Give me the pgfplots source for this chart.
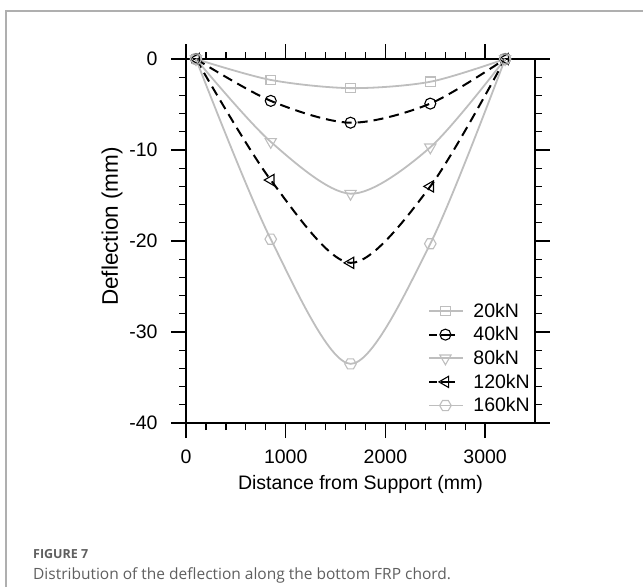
\documentclass[border=0pt]{standalone}
\usepackage{pgfplots}
\pgfplotsset{compat=1.18}
\usepackage{fontspec}
\setmainfont{Liberation Sans}
\newfontfamily\capfont{Open Sans}
\definecolor{lg}{RGB}{190,190,190}
\definecolor{framegray}{RGB}{175,175,175}
\definecolor{capgray}{RGB}{95,95,95}
\pgfdeclareplotmark{hexagon}{%
  \pgfpathmoveto{\pgfqpointpolar{0}{\pgfplotmarksize}}%
  \pgfpathlineto{\pgfqpointpolar{60}{\pgfplotmarksize}}%
  \pgfpathlineto{\pgfqpointpolar{120}{\pgfplotmarksize}}%
  \pgfpathlineto{\pgfqpointpolar{180}{\pgfplotmarksize}}%
  \pgfpathlineto{\pgfqpointpolar{240}{\pgfplotmarksize}}%
  \pgfpathlineto{\pgfqpointpolar{300}{\pgfplotmarksize}}%
  \pgfpathclose
  \pgfusepathqstroke
}
\pgfplotsset{
  dashedlegend/.style={legend image code/.code={\path[draw=none, fill=none] (0pt,0pt) -- (42pt,0pt);\draw[mark repeat=2, mark phase=2, dash pattern=on 7pt off 5pt on 20pt off 1pt] plot coordinates {(0pt,0pt) (16pt,0pt) (25pt,0pt)};}},
}
\begin{document}
\begin{tikzpicture}
\useasboundingbox (0,0) rectangle (643pt,-587pt);
\draw[framegray, line width=1.5pt] (6pt,-587pt) -- (6pt,-11pt) -- (643pt,-11pt);
\begin{axis}[
  at={(186pt,-423pt)}, anchor=south west,
  scale only axis, width=349pt, height=364pt,
  xmin=0, xmax=3500, ymin=-40, ymax=0,
  xtick={0,1000,2000,3000}, minor x tick num=4,
  ytick={-40,-30,-20,-10,0}, minor y tick num=4,
  tick align=outside,
  major tick length=15pt, minor tick length=7pt,
  axis line style={black, line width=1.3pt},
  every tick/.style={black, line width=1.3pt},
  tick label style={font=\fontsize{19.5}{22}\selectfont},
  xticklabel style={yshift=-8pt},
  yticklabel style={xshift=-10pt},
  /pgf/number format/assume math mode=true,
  /pgf/number format/1000 sep={},
  xlabel={Distance from Support (mm)},
  ylabel={Deflection (mm)},
  xlabel style={font=\fontsize{19.5}{22}\selectfont, at={(axis description cs:0.5,-0.17)}, anchor=center},
  ylabel style={font=\fontsize{22.5}{25}\selectfont, at={(axis description cs:-0.212,0.54)}, anchor=center},
  legend style={draw=none, fill=none, at={(rel axis cs:1.0,0.015)}, anchor=south east,
    font=\fontsize{19.5}{22}\selectfont, row sep=4pt},
  legend cell align=left,
  legend image code/.code={\path[draw=none, fill=none] (0pt,0pt) -- (42pt,0pt);\draw[mark repeat=2, mark phase=2] plot coordinates {(0pt,0pt) (16pt,0pt) (33pt,0pt)};},
  clip=false,
]
\addplot[lg, line width=1.8pt, smooth, mark=square, mark size=4.8pt, mark options={solid, line width=1.1pt}]
  coordinates {(100,0) (850,-2.3) (1650,-3.2) (2450,-2.5) (3200,0)};
\addlegendentry{20kN}
\addplot[black, line width=2pt, dash pattern=on 10pt off 6pt, smooth, mark=o, mark size=5.5pt, mark options={solid, line width=1.1pt}, dashedlegend]
  coordinates {(100,0) (850,-4.6) (1650,-7.0) (2450,-4.9) (3200,0)};
\addlegendentry{40kN}
\addplot[lg, line width=1.8pt, smooth, mark=triangle, mark size=6.5pt, mark options={solid, rotate=180, line width=1.1pt}]
  coordinates {(100,0) (850,-9.1) (1650,-14.8) (2450,-9.7) (3200,0)};
\addlegendentry{80kN}
\addplot[black, line width=2pt, dash pattern=on 10pt off 6pt, smooth, mark=triangle, mark size=6.5pt, mark options={solid, rotate=90, line width=1.1pt}, dashedlegend]
  coordinates {(100,0) (850,-13.3) (1650,-22.4) (2450,-14.0) (3200,0)};
\addlegendentry{120kN}
\addplot[lg, line width=1.8pt, smooth, mark=hexagon, mark size=5.8pt, mark options={solid, line width=1.1pt}]
  coordinates {(100,0) (850,-19.8) (1650,-33.5) (2450,-20.3) (3200,0)};
\addlegendentry{160kN}
\end{axis}
\node[anchor=base west, font=\capfont\fontsize{12.5}{14}\selectfont\bfseries, text=capgray, inner sep=0pt] at (33pt,-558pt) {FIGURE 7};
\node[anchor=base west, font=\capfont\fontsize{15.5}{18}\selectfont, text=capgray, inner sep=0pt] at (33pt,-579pt) {Distribution of the deflection along the bottom FRP chord.};
\end{tikzpicture}
\end{document}
